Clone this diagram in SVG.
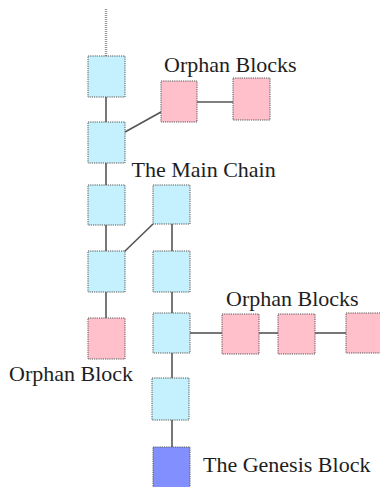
<svg xmlns="http://www.w3.org/2000/svg" width="380" height="487" viewBox="0 0 380 487">
  <style>
    .blk { stroke: #555; stroke-width: 1; stroke-dasharray: 1.2 1; }
    .main { fill: #c4f1fd; }
    .orphan { fill: #ffc0cc; }
    .genesis { fill: #8290ff; }
    .link { stroke: #555; stroke-width: 1.6; fill: none; }
    .tail { stroke: #999; stroke-width: 2.5; stroke-dasharray: 1 1; fill: none; }
    .lbl { font-family: "Liberation Serif", "Times New Roman", serif; font-size: 22px; fill: #1e1e1e; }
  </style>

  <rect width="380" height="487" fill="#fff"/>

  <!-- connectors -->
  <g id="connectors">
    <line class="tail" x1="106" y1="9" x2="106" y2="56"/>
    <line class="link" x1="106" y1="97" x2="106" y2="122"/>
    <line class="link" x1="106" y1="163" x2="106" y2="185"/>
    <line class="link" x1="106" y1="225" x2="106" y2="251"/>
    <line class="link" x1="106" y1="292" x2="106" y2="318"/>
    <line class="link" x1="125" y1="132" x2="161" y2="112"/>
    <line class="link" x1="197" y1="102" x2="233" y2="102"/>
    <line class="link" x1="124" y1="252" x2="153" y2="224"/>
    <line class="link" x1="172" y1="224" x2="172" y2="251"/>
    <line class="link" x1="172" y1="292" x2="172" y2="313"/>
    <line class="link" x1="172" y1="353" x2="172" y2="378"/>
    <line class="link" x1="172" y1="420" x2="172" y2="447"/>
    <line class="link" x1="190" y1="333" x2="222" y2="333"/>
    <line class="link" x1="259" y1="333" x2="278" y2="333"/>
    <line class="link" x1="315" y1="333" x2="346" y2="333"/>
  </g>

  <!-- main chain, left branch -->
  <g id="block-l1"><rect class="blk main" x="88" y="56" width="37" height="41"/></g>
  <g id="block-l2"><rect class="blk main" x="88" y="122" width="37" height="41"/></g>
  <g id="block-l3"><rect class="blk main" x="88" y="185" width="37" height="40"/></g>
  <g id="block-l4"><rect class="blk main" x="88" y="251" width="37" height="41"/></g>
  <g id="orphan-l5"><rect class="blk orphan" x="88" y="318" width="37" height="41"/></g>

  <!-- upper orphan pair -->
  <g id="orphan-u1"><rect class="blk orphan" x="161" y="81" width="36" height="41"/></g>
  <g id="orphan-u2"><rect class="blk orphan" x="233" y="78" width="37" height="42"/></g>

  <!-- main chain, right branch -->
  <g id="block-r1"><rect class="blk main" x="153" y="185" width="37" height="39"/></g>
  <g id="block-r2"><rect class="blk main" x="153" y="251" width="37" height="41"/></g>
  <g id="block-r3"><rect class="blk main" x="153" y="313" width="37" height="40"/></g>
  <g id="block-r4"><rect class="blk main" x="152" y="378" width="37" height="42"/></g>
  <g id="genesis"><rect class="blk genesis" x="153" y="447" width="37" height="42"/></g>

  <!-- lower orphan run -->
  <g id="orphan-a"><rect class="blk orphan" x="222" y="314" width="37" height="40"/></g>
  <g id="orphan-b"><rect class="blk orphan" x="278" y="314" width="37" height="40"/></g>
  <g id="orphan-c"><rect class="blk orphan" x="346" y="313" width="37" height="40"/></g>

  <!-- labels -->
  <g id="labels">
    <text class="lbl" x="164" y="72">Orphan Blocks</text>
    <text class="lbl" x="131.5" y="177">The Main Chain</text>
    <text class="lbl" x="226" y="306">Orphan Blocks</text>
    <text class="lbl" x="9" y="381">Orphan Block</text>
    <text class="lbl" x="203" y="472">The Genesis Block</text>
  </g>
</svg>
